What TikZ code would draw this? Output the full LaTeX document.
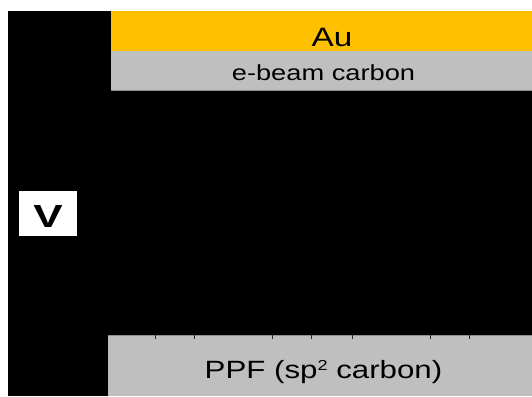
\documentclass[tikz,border=0pt]{standalone}
\usepackage{fontspec}
\setmainfont{Liberation Sans}
\definecolor{gold}{HTML}{FFC000}
\definecolor{layergray}{HTML}{BFBFBF}
\definecolor{edgegray}{HTML}{8C8C8C}
\newcommand{\smallsup}[1]{\raisebox{7.8pt}{\fontsize{14.5}{14.5}\selectfont #1}}
\begin{document}
\begin{tikzpicture}[x=1pt,y=-1pt,
  lbl/.style={inner sep=0pt, anchor=base, xscale=1.25},
  tick/.style={line width=1pt, draw=black!85}]
\useasboundingbox (0,0) rectangle (532,396);
% black backdrop
\fill[black] (8,11) rectangle (532,396);
% electrode stack on top
\fill[gold] (111,11) rectangle (532,51);
\fill[layergray] (111,51) rectangle (532,91);
\draw[edgegray, line width=0.8pt] (111,90.6) -- (532,90.6);
% pyrolysed photoresist film at the bottom
\fill[layergray] (108,335) rectangle (532,396);
\draw[edgegray, line width=0.8pt] (108,335.4) -- (532,335.4);
\foreach \tx in {155,194,272,311,352,430,469}
  \draw[tick] (\tx,335) -- (\tx,338.5);
% labels
\node[lbl, font=\fontsize{26.6}{30}\selectfont] (au) at (332,46) {Au};
\node[lbl, font=\fontsize{21.8}{26}\selectfont] (eb) at (323.5,81) {e-beam carbon};
\node[lbl, font=\fontsize{25}{30}\selectfont] (ppf) at (323.5,378.3) {PPF (sp\smallsup{2} carbon)};
% voltage tag
\fill[white] (19.3,191) rectangle (76.7,235.7);
\node[lbl, xscale=1.1, font=\bfseries\fontsize{32}{36}\selectfont] (v) at (48,227) {V};
\end{tikzpicture}
\end{document}
